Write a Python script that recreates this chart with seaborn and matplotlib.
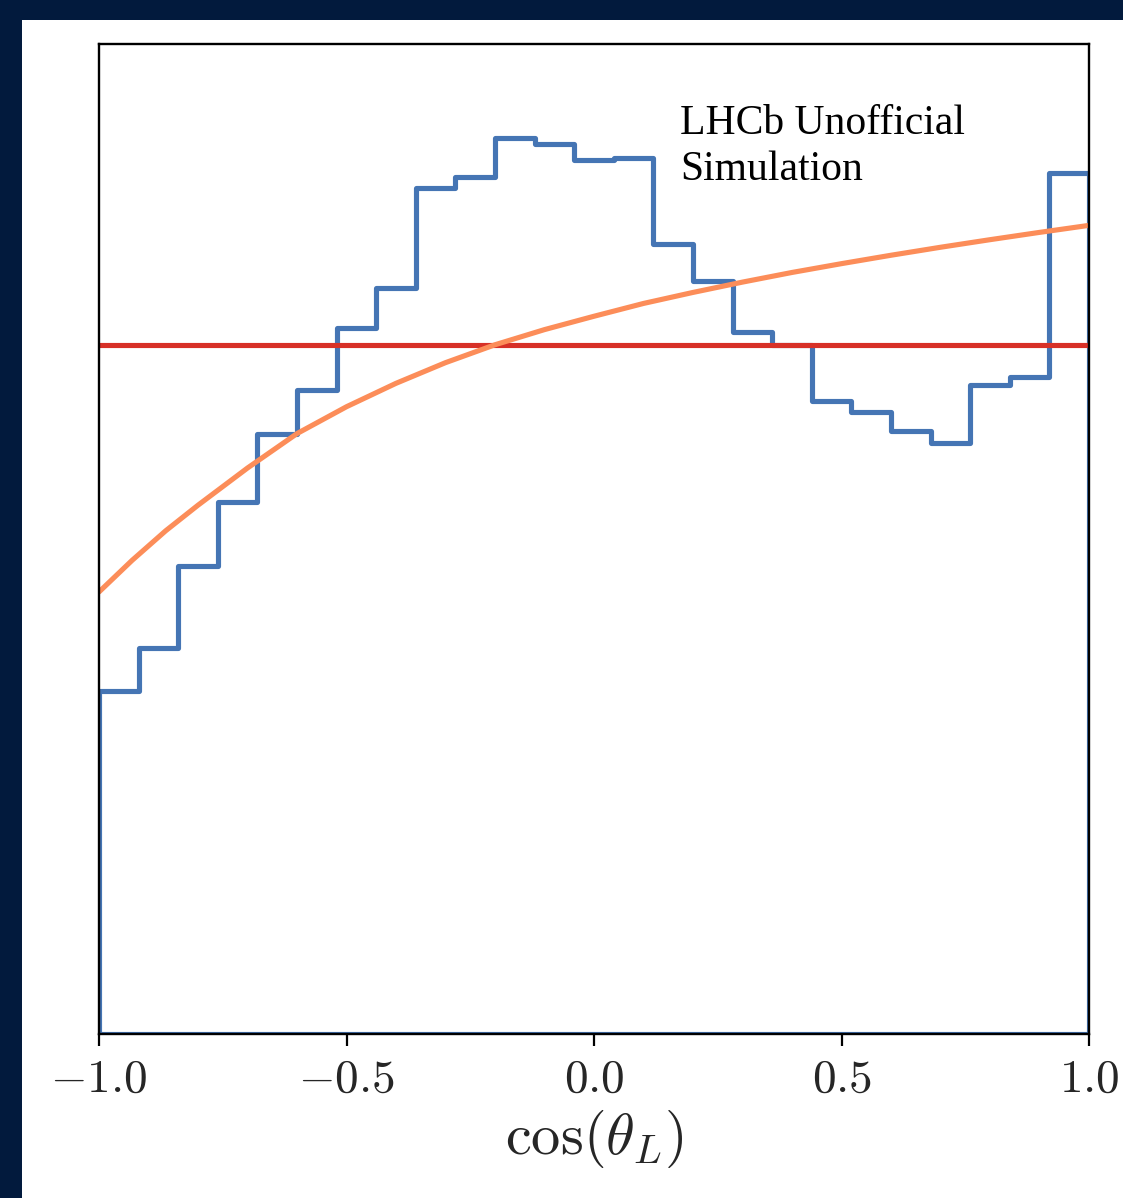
import numpy as np
import pandas as pd
import matplotlib
matplotlib.use("Agg")
import matplotlib.pyplot as plt
from matplotlib.patches import Rectangle
import seaborn as sns

# ---------------- data ----------------
n_bins = 25
x_range = (-1.0, 1.0)
hist_values = [0.249, 0.280, 0.340, 0.386, 0.436, 0.468, 0.513, 0.542, 0.614, 0.622,
               0.651, 0.646, 0.635, 0.636, 0.574, 0.547, 0.510, 0.500, 0.460, 0.452,
               0.438, 0.429, 0.471, 0.477, 0.625]
uniform_level = 0.5
curve_x = [-1.0, -0.933, -0.865, -0.8, -0.7, -0.6, -0.5, -0.4, -0.3, -0.2, -0.1,
           0.0, 0.1, 0.2, 0.3, 0.4, 0.5, 0.6, 0.7, 0.8, 0.9, 1.0]
curve_y = [0.321, 0.3440, 0.3655, 0.3840, 0.4110, 0.4360, 0.4555, 0.4725, 0.4875, 0.5005, 0.5115,
           0.5212, 0.5305, 0.5385, 0.5460, 0.5530, 0.5594, 0.5655, 0.5713, 0.5768, 0.5821, 0.5872]
xticks = [-1.0, -0.5, 0.0, 0.5, 1.0]
tick_labels = [r"$-1.0$", r"$-0.5$", r"$0.0$", r"$0.5$", r"$1.0$"]
annotation = "LHCb Unofficial\nSimulation"
xlabel = r"$\cos(\theta_L)$"

# ---------------- style ----------------
navy = "#021a3d"
blue = "#4575b4"
orange = "#fc8d59"
red = "#d73027"
lw = 3.7

sns.set_style("ticks")
plt.rcParams["mathtext.fontset"] = "cm"
plt.rcParams["font.family"] = ["DejaVu Sans"]

W, H = 1123, 1198
fig = plt.figure(figsize=(W / 100, H / 100), dpi=100, facecolor=navy)
fig.add_artist(Rectangle((22 / W, 0), 1, (H - 20) / H, transform=fig.transFigure,
                         facecolor="white", edgecolor="none", zorder=-1))

ax = fig.add_axes([99 / W, (H - 1034) / H, 990 / W, 990 / H])
ax.set_facecolor("white")

edges = np.linspace(x_range[0], x_range[1], n_bins + 1)
centers = (edges[:-1] + edges[1:]) / 2
df = pd.DataFrame({"x": centers, "w": hist_values})
sns.histplot(data=df, x="x", weights="w", bins=n_bins, binrange=x_range,
             element="step", fill=True, color=blue, linewidth=lw, ax=ax, zorder=1)
for coll in ax.collections:
    coll.set_facecolor("none")
    coll.set_edgecolor(blue)
    coll.set_linewidth(lw)

ax.axhline(uniform_level, color=red, linewidth=lw, zorder=2)
sns.lineplot(x=curve_x, y=curve_y, color=orange, linewidth=lw, ax=ax, zorder=3)

ax.set_xlim(*x_range)
ax.set_ylim(0, 0.7189)
ax.set_xticks(xticks)
ax.set_xticklabels(tick_labels)
ax.set_ylabel("")
ax.set_xlabel(xlabel, fontsize=42, labelpad=4)
ax.tick_params(axis="x", length=8.5, width=1.6, labelsize=34, pad=8, direction="out", color="black")
ax.tick_params(axis="y", left=False, labelleft=False)
for s in ax.spines.values():
    s.set_visible(True)
    s.set_linewidth(1.7)
    s.set_color("black")
    s.set_zorder(5)

ax.text((680 - 99) / 990, (1034 - 105) / 990, annotation, transform=ax.transAxes,
        fontsize=30, family=["Liberation Serif"], color="black",
        va="top", ha="left", linespacing=1.25)

fig.savefig("out.png", dpi=100, facecolor=navy)
